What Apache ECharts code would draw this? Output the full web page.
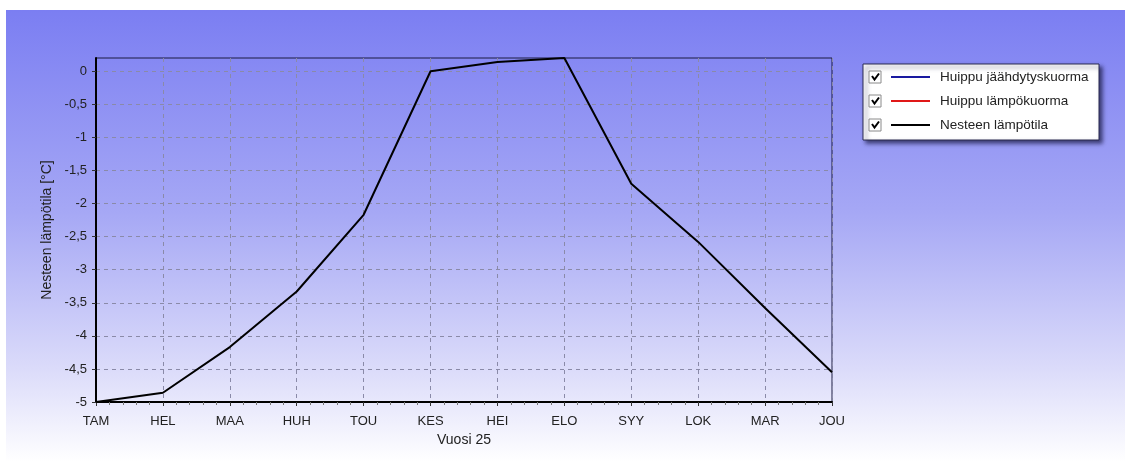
<!DOCTYPE html>
<html>
<head>
<meta charset="utf-8">
<script src="https://cdn.jsdelivr.net/npm/echarts@6/dist/echarts.min.js"></script>
<style>html,body{margin:0;padding:0;background:#fff;}#c{width:1132px;height:462px;}</style>
</head>
<body>
<div id="c"></div>
<script>
var categories = ['TAM','HEL','MAA','HUH','TOU','KES','HEI','ELO','SYY','LOK','MAR','JOU'];
var fluidTemp = [-5.0, -4.86, -4.17, -3.33, -2.17, 0.0, 0.14, 0.2, -1.7, -2.58, -3.58, -4.55];
var peakCooling = [];
var peakHeating = [];
var seriesNames = ['Huippu jäähdytyskuorma', 'Huippu lämpökuorma', 'Nesteen lämpötila'];
var xAxisName = 'Vuosi 25';
var yAxisName = 'Nesteen lämpötila [°C]';

var FONT = '"Liberation Sans", Arial, sans-serif';
function pairs(arr){ return arr.map(function(v,i){ return [i, v]; }); }

var chart = echarts.init(document.getElementById('c'));

function checkbox(y){
  return [
    {type:'rect', z:5, shape:{x:869, y:y-6, width:12, height:12},
     style:{fill:'#ffffff', stroke:'#8a8a8a', lineWidth:1}},
    {type:'polyline', z:6, shape:{points:[[872,y-1],[874.5,y+2.5],[879,y-3.5]]},
     style:{stroke:'#000', lineWidth:2, fill:null}}
  ];
}

var graphics = [
  {type:'rect', z:-10, silent:true, shape:{x:6, y:10, width:1119, height:452},
   style:{fill:new echarts.graphic.LinearGradient(0,0,0,1,[
     {offset:0, color:'#7b7ef2'},
     {offset:0.45, color:'#a6a8f5'},
     {offset:0.8, color:'#dcdcfa'},
     {offset:1, color:'#ffffff'}])}},
  {type:'rect', z:1, shape:{x:863, y:64, width:236, height:76},
   style:{fill:'#ffffff', stroke:'#2a2a50', lineWidth:1,
          shadowBlur:4, shadowOffsetX:3, shadowOffsetY:3, shadowColor:'rgba(20,20,60,0.7)'}}
].concat(checkbox(77), checkbox(101), checkbox(125));

chart.setOption({
  animation:false,
  backgroundColor:'transparent',
  textStyle:{fontFamily:FONT},
  graphic:graphics,
  grid:{left:96, top:58, right:300, bottom:60, show:true, borderColor:'#1a1a40', borderWidth:1, backgroundColor:'transparent'},
  legend:{
    orient:'vertical', left:886, top:65, z:10,
    icon:'rect', itemWidth:39, itemHeight:2, itemGap:10,
    textStyle:{fontFamily:FONT, fontSize:13.5, color:'#222', lineHeight:14, padding:[0,0,0,5]},
    data:seriesNames,
    selectedMode:false
  },
  xAxis:{
    type:'value', min:0, max:categories.length-1, interval:1,
    name:xAxisName, nameLocation:'middle', nameGap:30,
    nameTextStyle:{fontFamily:FONT, fontSize:14, color:'#222'},
    axisLine:{show:true, onZero:false, lineStyle:{color:'#000', width:2}},
    axisTick:{show:true, inside:false, length:4, lineStyle:{color:'#333'}},
    minorTick:{show:true, splitNumber:5, length:3, lineStyle:{color:'#777'}},
    axisLabel:{margin:13, fontFamily:FONT, fontSize:13, color:'#222',
      formatter:function(v){ return categories[Math.round(v)] || ''; }},
    splitLine:{show:true, lineStyle:{color:'#8a8aa8', type:[4,4], width:1}}
  },
  yAxis:{
    type:'value', min:-5, max:0.2, interval:0.5,
    name:yAxisName, nameLocation:'middle', nameGap:38, nameRotate:90,
    nameTextStyle:{fontFamily:FONT, fontSize:14, color:'#222'},
    axisLine:{show:true, onZero:false, lineStyle:{color:'#000', width:2}},
    axisTick:{show:true, length:4, lineStyle:{color:'#333'}},
    axisLabel:{margin:9, fontFamily:FONT, fontSize:13, color:'#222', showMaxLabel:false,
      formatter:function(v){ return String(Math.round(v*10)/10).replace('.', ','); }},
    splitLine:{show:true, showMaxLine:false, lineStyle:{color:'#8a8aa8', type:[4,4], width:1}}
  },
  series:[
    {name:seriesNames[0], type:'line', color:'#1a1aa0', data:pairs(peakCooling), symbol:'none'},
    {name:seriesNames[1], type:'line', color:'#e01818', data:pairs(peakHeating), symbol:'none'},
    {name:seriesNames[2], type:'line', color:'#000000', data:pairs(fluidTemp), symbol:'none',
     lineStyle:{width:2, color:'#000'}}
  ]
});
</script>
</body>
</html>
